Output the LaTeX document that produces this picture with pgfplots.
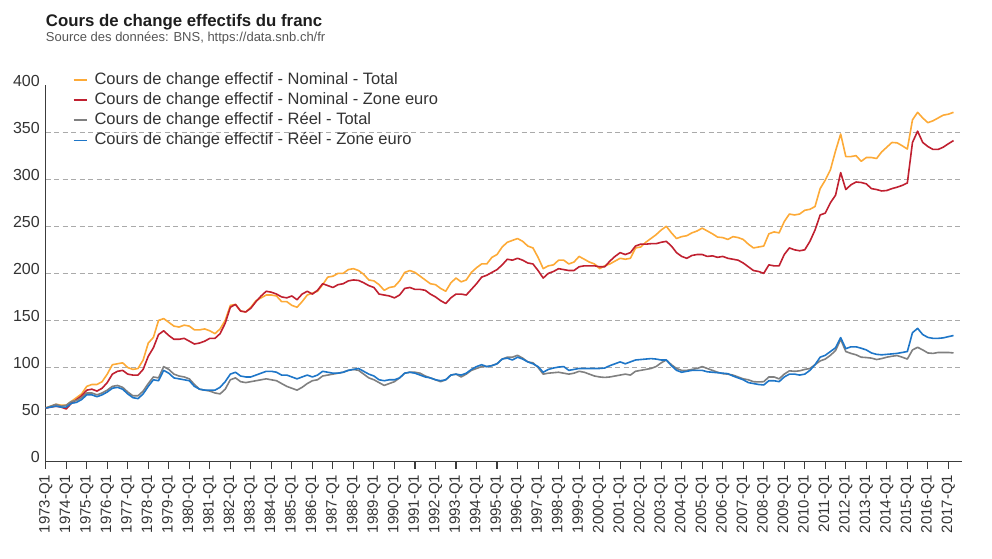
\documentclass[border=0pt]{standalone}
\usepackage{pgfplots}
\pgfplotsset{compat=1.18}
\usepackage{pgfplotstable}
\usepackage{fontspec}
\setmainfont{Liberation Sans}
\definecolor{cOr}{RGB}{253,170,55}
\definecolor{cRe}{RGB}{192,32,48}
\definecolor{cGr}{RGB}{128,128,128}
\definecolor{cBl}{RGB}{30,118,200}
\definecolor{axc}{RGB}{60,60,60}
\definecolor{txc}{RGB}{51,51,51}
\definecolor{grc}{RGB}{170,170,170}

\pgfplotstableread{
i o r g b
0 57 57 57 57
1 59 58 59 58
2 61 59 61 59
3 60 58 59 58
4 60 56 60 58
5 64 62 64 62
6 68 66 65 63
7 72 70 68 66
8 80 76 73 71
9 82 77 73 71
10 82 75 71 69
11 85 78 73 71
12 93 84 76 74
13 103 93 80 78
14 104 96 81 79
15 105 97 79 77
16 100 93 74 72
17 98 92 70 68
18 99 92 70 67
19 108 98 75 72
20 126 112 83 80
21 132 121 90 87
22 150 135 89 86
23 152 139 101 97
24 148 134 98 94
25 144 130 93 89
26 143 130 91 88
27 145 131 90 87
28 144 128 88 86
29 140 125 82 80
30 140 126 77 77
31 141 128 76 76
32 139 131 75 76
33 136 131 73 76
34 141 136 72 79
35 150 147 77 85
36 166 164 87 93
37 167 167 89 95
38 160 160 85 91
39 159 159 84 90
40 164 163 85 90
41 171 170 86 92
42 174 176 87 94
43 177 181 88 96
44 177 180 87 96
45 176 178 86 95
46 170 175 83 92
47 170 174 80 92
48 166 176 78 90
49 164 172 76 88
50 170 178 79 90
51 177 181 83 92
52 179 178 86 90
53 181 182 87 92
54 188 189 91 96
55 196 187 92 95
56 197 185 93 94
57 200 188 94 94
58 200 189 95 95
59 204 192 97 97
60 205 193 98 98
61 203 192.5 97 99
62 199 190 93 96
63 193 187 89 93
64 192 185 87 91
65 188 178 84 87
66 182 177 81 86
67 185 176 83 87
68 186 174 85 87
69 192 177 89 89
70 201 184 94 94
71 203 185 95 95
72 201 183 95 94
73 197 183 94 92
74 193 182 91 90
75 189 178 89 89
76 188 175 87 87
77 184 171 85 86
78 181 168 87 87
79 190 174 92 92
80 195 178 93 93
81 191 178 90 92
82 193 177 93 94
83 201 183 97 98
84 206 189 99 101
85 210 196 101 103
86 210 198 101 101
87 217 201 102 102
88 220 204 104 104
89 228 209 109 109
90 233 215 111 110
91 235 214 111 108
92 237 216 113 111
93 234 214 110 109
94 229 211 106 106
95 227 210 105 104
96 217 203 100 101
97 205 195 93 95
98 208 200 94 98
99 209 202 94.5 99.5
100 214 205 95 100.5
101 214 204 94 101
102 210 203 93 97
103 212 203 94 98
104 218 207 96 99
105 215 208 95 99
106 212 208 93 99
107 210 208 91 99
108 205 207 90 99
109 208 207 89.5 99.5
110 210 213 90 102
111 213 218 91 104
112 216 222 92 106
113 215 220 93 104
114 216 222 92 106
115 227 229 96 108
116 228 231 97 108.5
117 233 231 98 109
118 237 231.5 99 109.5
119 241 231.5 101 109
120 246 233 105 108
121 250 234 108 108
122 243 229 103 102
123 237 222 99 97
124 239 218 97 95
125 240 216 97 96
126 243 219 98 97
127 245 220 99 97
128 248 220 101 97
129 245 218 99 95.5
130 242 218.6 97 95
131 238.5 217 95 94.5
132 238 218 93.5 94
133 236 216 93 93.5
134 239 215 92 91
135 238 214 90 89
136 236 211 88 87
137 231 207 87 84
138 227 203 85 83
139 228 202 84.7 82
140 229 200 85 81.5
141 242 209 90 86
142 244 208 90 86
143 243 208 88 85
144 255 220 93 90
145 263 227 96.5 93
146 262 225 96 93
147 263 224 96.5 92
148 267 225 98 93
149 268 234 99 97
150 271 246 103 103
151 290 262 107 111
152 299 264 109 113
153 310 275 113 117
154 330 283 118 121
155 348 307 130 131.8
156 324 289 117 120
157 324 294 115 122
158 325 297 113.5 122
159 319 296.5 111 120.5
160 323 295 110.6 118.7
161 323 290 110 115.5
162 322 289 108.5 114
163 329 287.5 109.5 113.5
164 334 288 111 114
165 339 290 112 114.5
166 338.6 291.5 112.7 115
167 335.5 293.4 111 116
168 332 296 109 117
169 363 339 118.7 137
170 371 351 121.5 141.6
171 365 339 118.7 135
172 360 334.7 115.5 132
173 362 331.6 115 131
174 365 331.6 116 131
175 368 334 116 131.5
176 369 337.6 116 132.8
177 371 341 115.5 134
}\datatable

\begin{document}
\begin{tikzpicture}
\path[use as bounding box] (0pt,0pt) rectangle (992pt,-558pt);
\node[anchor=base west, inner sep=0pt, font=\fontsize{16.8}{19}\selectfont\bfseries, text={rgb,255:red,30;green,30;blue,30}] at (45.7pt,-26pt) {Cours de change effectifs du franc};
\node[anchor=base west, inner sep=0pt, font=\fontsize{13}{15}\selectfont, text={rgb,255:red,85;green,85;blue,85}] at (45.7pt,-41pt) {Source des données: BNS, https://data.snb.ch/fr};
\begin{axis}[
  at={(45.7pt,-461.7pt)}, anchor=south west,
  scale only axis, width=916pt, height=376.7pt,
  xmin=0, xmax=178.6, ymin=0, ymax=400,
  axis lines=left,
  axis line style={-, draw=axc, line width=1.3pt},
  tick align=outside,
  major tick length=7pt,
  xtick={0,4,...,176},
  xticklabels={1973-Q1,1974-Q1,1975-Q1,1976-Q1,1977-Q1,1978-Q1,1979-Q1,1980-Q1,1981-Q1,1982-Q1,1983-Q1,1984-Q1,1985-Q1,1986-Q1,1987-Q1,1988-Q1,1989-Q1,1990-Q1,1991-Q1,1992-Q1,1993-Q1,1994-Q1,1995-Q1,1996-Q1,1997-Q1,1998-Q1,1999-Q1,2000-Q1,2001-Q1,2002-Q1,2003-Q1,2004-Q1,2005-Q1,2006-Q1,2007-Q1,2008-Q1,2009-Q1,2010-Q1,2011-Q1,2012-Q1,2013-Q1,2014-Q1,2015-Q1,2016-Q1,2017-Q1},
  xtick style={draw=axc, line width=1.1pt},
  xticklabel shift=2.5pt,
  xticklabel style={rotate=90, anchor=east, font=\fontsize{15}{17}\selectfont, text=txc},
  ytick={50,100,...,350},
  extra y ticks={0,400},
  extra y tick style={grid=none},
  ymajorgrids,
  grid style={draw=grc, line width=1.1pt, dash pattern=on 5pt off 3.5pt},
  ytick style={draw=none},
  yticklabel style={font=\fontsize{16}{18}\selectfont, text=txc, yshift=4.5pt, xshift=4.6pt},
  /pgf/number format/assume math mode=true,
  legend style={at={(rel axis cs:0.0295,1.033)}, anchor=north west, draw=none, fill=none,
    inner sep=0pt, outer sep=0pt, column sep=7pt, row sep=5.7pt,
    font=\fontsize{16.5}{18}\selectfont, text=txc,
    nodes={inner sep=0pt, text height=11.5pt, text depth=3pt}},
  legend cell align=left,
  legend image code/.code={\draw[#1, line width=1.8pt] (0pt,0pt) -- (13pt,0pt);},
  every axis plot/.append style={line width=1.6pt, line join=round},
]
\addplot[cOr] table[x=i, y=o] {\datatable};
\addlegendentry{Cours de change effectif - Nominal - Total}
\addplot[cRe] table[x=i, y=r] {\datatable};
\addlegendentry{Cours de change effectif - Nominal - Zone euro}
\addplot[cGr] table[x=i, y=g] {\datatable};
\addlegendentry{Cours de change effectif - Réel - Total}
\addplot[cBl] table[x=i, y=b] {\datatable};
\addlegendentry{Cours de change effectif - Réel - Zone euro}
\end{axis}
\end{tikzpicture}
\end{document}
